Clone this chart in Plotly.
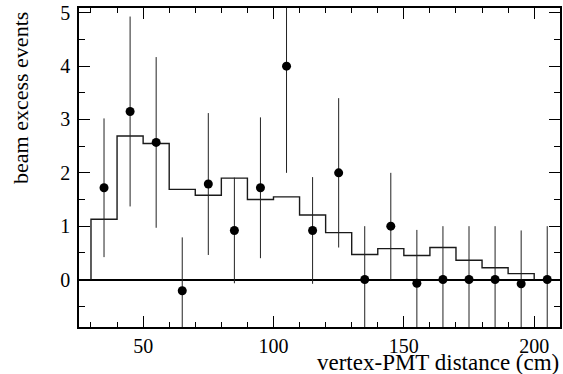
import plotly.graph_objects as go

# Monte Carlo expectation histogram (bin lower edges, width 10 cm)
bin_lo = [30, 40, 50, 60, 70, 80, 90, 100, 110, 120, 130, 140, 150, 160, 170, 180, 190]
bin_width = 10
mc_vals = [1.13, 2.69, 2.55, 1.69, 1.58, 1.90, 1.50, 1.55, 1.21, 0.88, 0.47, 0.58, 0.45, 0.60, 0.36, 0.22, 0.11]

# Data points
x_pts = [35, 45, 55, 65, 75, 85, 95, 105, 115, 125, 135, 145, 155, 165, 175, 185, 195, 205]
y_pts = [1.72, 3.15, 2.57, -0.21, 1.79, 0.92, 1.72, 4.00, 0.92, 2.00, 0.00, 1.00, -0.07, 0.00, 0.00, 0.00, -0.08, 0.00]
y_err = [1.30, 1.78, 1.60, 1.00, 1.33, 0.99, 1.32, 2.00, 1.00, 1.40, 1.00, 1.00, 1.00, 1.00, 1.00, 1.00, 1.00, 1.00]

x_ticks = [50, 100, 150, 200]
y_ticks = [0, 1, 2, 3, 4, 5]

# build step outline from the histogram arrays
hx = [bin_lo[0]]
hy = [0]
for lo, v in zip(bin_lo, mc_vals):
    hx += [lo, lo + bin_width]
    hy += [v, v]
hx.append(bin_lo[-1] + bin_width)
hy.append(0)

serif = "Liberation Serif, Times New Roman, serif"

fig = go.Figure()
fig.add_trace(go.Scatter(x=hx, y=hy, mode="lines",
                         line=dict(color="#1a1a1a", width=1.4),
                         hoverinfo="skip", showlegend=False))
fig.add_trace(go.Scatter(x=x_pts, y=y_pts, mode="markers",
                         marker=dict(color="black", size=9),
                         error_y=dict(type="data", array=y_err, visible=True,
                                      color="#222", thickness=1, width=0),
                         showlegend=False))

axis_common = dict(
    showline=True, linecolor="black", linewidth=1.5, mirror="allticks",
    ticks="inside", tickcolor="black", tickwidth=1.2, ticklen=11,
    showgrid=False, tickfont=dict(family=serif, size=20, color="black"),
)

fig.update_xaxes(range=[25.4, 209.9], tickvals=x_ticks, zeroline=False,
                 minor=dict(dtick=10, tick0=0, ticks="inside", ticklen=5,
                            tickcolor="black", tickwidth=1.2),
                 **axis_common)
fig.update_yaxes(range=[-0.89, 5.09], tickvals=y_ticks,
                 zeroline=True, zerolinecolor="black", zerolinewidth=1.6,
                 ticklabelstandoff=3,
                 minor=dict(dtick=0.5, tick0=0, ticks="inside", ticklen=6,
                            tickcolor="black", tickwidth=1.2),
                 **axis_common)

fig.add_annotation(text="vertex-PMT distance (cm)", xref="paper", yref="paper",
                   x=1.0, y=-0.112, xanchor="right", yanchor="middle",
                   showarrow=False, borderpad=0,
                   font=dict(family=serif, size=23, color="black"))
fig.add_annotation(text="beam excess events", xref="paper", yref="paper",
                   x=-0.122, y=0.719, xanchor="center", yanchor="middle",
                   textangle=-90, showarrow=False,
                   font=dict(family=serif, size=22, color="black"))

fig.update_layout(width=563, height=374, margin=dict(l=79, r=1, t=8, b=47),
                  plot_bgcolor="white", paper_bgcolor="white")

fig.write_html("out.html")
